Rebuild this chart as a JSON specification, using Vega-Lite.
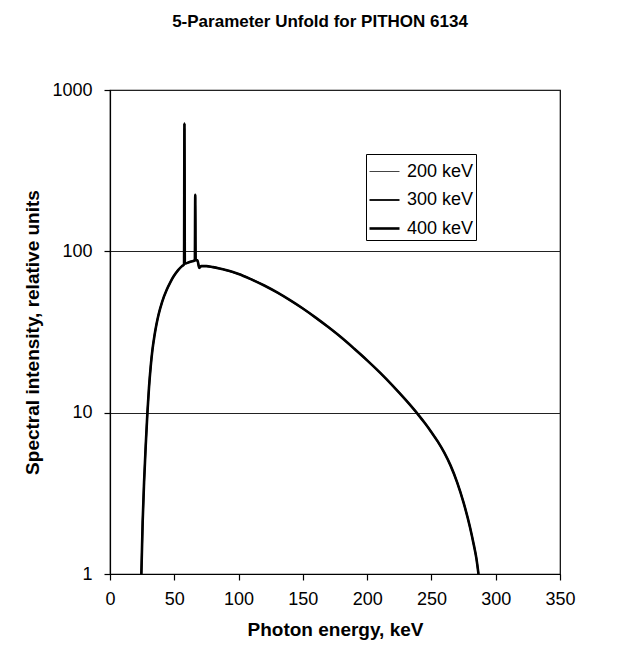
{
  "$schema": "https://vega.github.io/schema/vega-lite/v6.json",
  "width": 450,
  "height": 484,
  "autosize": {"type": "none"},
  "padding": {"left": 110, "top": 90, "right": 80, "bottom": 84},
  "background": "white",
  "title": {
    "text": "5-Parameter Unfold for PITHON 6134",
    "font": "Liberation Sans",
    "fontSize": 17,
    "fontWeight": "bold",
    "color": "black",
    "offset": 50,
    "anchor": "middle",
    "dx": -15
  },
  "config": {
    "font": "Liberation Sans",
    "view": {"stroke": "black", "strokeWidth": 1.2},
    "axis": {
      "domainColor": "black",
      "tickColor": "black",
      "labelColor": "black",
      "titleColor": "black",
      "labelFont": "Liberation Sans",
      "titleFont": "Liberation Sans",
      "labelFontSize": 18,
      "titleFontSize": 19,
      "titleFontWeight": "bold",
      "tickSize": 6,
      "domainWidth": 1.2,
      "tickWidth": 1.2
    }
  },
  "datasets": {
    "spectra": [
      {"energy": 24.4, "intensity": 1, "series": "200 keV"},
      {"energy": 25.4, "intensity": 2.1, "series": "200 keV"},
      {"energy": 26.5, "intensity": 3.7, "series": "200 keV"},
      {"energy": 27.8, "intensity": 6.3, "series": "200 keV"},
      {"energy": 29.1, "intensity": 10, "series": "200 keV"},
      {"energy": 30.3, "intensity": 14.2, "series": "200 keV"},
      {"energy": 31.7, "intensity": 19.5, "series": "200 keV"},
      {"energy": 33, "intensity": 24.5, "series": "200 keV"},
      {"energy": 34.5, "intensity": 29.7, "series": "200 keV"},
      {"energy": 36, "intensity": 34.8, "series": "200 keV"},
      {"energy": 37.7, "intensity": 40.3, "series": "200 keV"},
      {"energy": 40.5, "intensity": 48.5, "series": "200 keV"},
      {"energy": 44.2, "intensity": 58, "series": "200 keV"},
      {"energy": 47, "intensity": 64.5, "series": "200 keV"},
      {"energy": 49.4, "intensity": 69.8, "series": "200 keV"},
      {"energy": 53, "intensity": 76.5, "series": "200 keV"},
      {"energy": 56, "intensity": 81, "series": "200 keV"},
      {"energy": 57.6, "intensity": 83, "series": "200 keV"},
      {"energy": 57.9, "intensity": 620, "series": "200 keV"},
      {"energy": 58.2, "intensity": 84, "series": "200 keV"},
      {"energy": 62, "intensity": 86, "series": "200 keV"},
      {"energy": 66, "intensity": 88, "series": "200 keV"},
      {"energy": 66.3, "intensity": 224, "series": "200 keV"},
      {"energy": 66.6, "intensity": 88, "series": "200 keV"},
      {"energy": 68, "intensity": 88, "series": "200 keV"},
      {"energy": 69.4, "intensity": 79, "series": "200 keV"},
      {"energy": 71, "intensity": 81, "series": "200 keV"},
      {"energy": 75, "intensity": 81, "series": "200 keV"},
      {"energy": 80, "intensity": 79.8, "series": "200 keV"},
      {"energy": 85, "intensity": 78.3, "series": "200 keV"},
      {"energy": 90, "intensity": 76.6, "series": "200 keV"},
      {"energy": 95, "intensity": 74.6, "series": "200 keV"},
      {"energy": 100, "intensity": 72.4, "series": "200 keV"},
      {"energy": 110, "intensity": 67, "series": "200 keV"},
      {"energy": 120, "intensity": 61.4, "series": "200 keV"},
      {"energy": 130, "intensity": 55.6, "series": "200 keV"},
      {"energy": 140, "intensity": 49.8, "series": "200 keV"},
      {"energy": 150, "intensity": 44.2, "series": "200 keV"},
      {"energy": 160, "intensity": 38.8, "series": "200 keV"},
      {"energy": 170, "intensity": 33.8, "series": "200 keV"},
      {"energy": 180, "intensity": 29.2, "series": "200 keV"},
      {"energy": 190, "intensity": 24.9, "series": "200 keV"},
      {"energy": 200, "intensity": 21.1, "series": "200 keV"},
      {"energy": 210, "intensity": 17.7, "series": "200 keV"},
      {"energy": 220, "intensity": 14.66, "series": "200 keV"},
      {"energy": 230, "intensity": 11.99, "series": "200 keV"},
      {"energy": 240, "intensity": 9.66, "series": "200 keV"},
      {"energy": 245, "intensity": 8.59, "series": "200 keV"},
      {"energy": 250, "intensity": 7.57, "series": "200 keV"},
      {"energy": 255, "intensity": 6.61, "series": "200 keV"},
      {"energy": 260, "intensity": 5.65, "series": "200 keV"},
      {"energy": 265, "intensity": 4.68, "series": "200 keV"},
      {"energy": 270, "intensity": 3.7, "series": "200 keV"},
      {"energy": 275, "intensity": 2.77, "series": "200 keV"},
      {"energy": 280, "intensity": 1.95, "series": "200 keV"},
      {"energy": 283, "intensity": 1.51, "series": "200 keV"},
      {"energy": 285, "intensity": 1.245, "series": "200 keV"},
      {"energy": 286.6, "intensity": 1, "series": "200 keV"},

      {"energy": 24.4, "intensity": 1, "series": "300 keV"},
      {"energy": 25.4, "intensity": 2.1, "series": "300 keV"},
      {"energy": 26.5, "intensity": 3.7, "series": "300 keV"},
      {"energy": 27.8, "intensity": 6.3, "series": "300 keV"},
      {"energy": 29.1, "intensity": 10, "series": "300 keV"},
      {"energy": 30.3, "intensity": 14.2, "series": "300 keV"},
      {"energy": 31.7, "intensity": 19.5, "series": "300 keV"},
      {"energy": 33, "intensity": 24.5, "series": "300 keV"},
      {"energy": 34.5, "intensity": 29.7, "series": "300 keV"},
      {"energy": 36, "intensity": 34.8, "series": "300 keV"},
      {"energy": 37.7, "intensity": 40.3, "series": "300 keV"},
      {"energy": 40.5, "intensity": 48.5, "series": "300 keV"},
      {"energy": 44.2, "intensity": 58, "series": "300 keV"},
      {"energy": 47, "intensity": 64.5, "series": "300 keV"},
      {"energy": 49.4, "intensity": 69.8, "series": "300 keV"},
      {"energy": 53, "intensity": 76.5, "series": "300 keV"},
      {"energy": 56, "intensity": 81, "series": "300 keV"},
      {"energy": 57.6, "intensity": 83, "series": "300 keV"},
      {"energy": 57.9, "intensity": 620, "series": "300 keV"},
      {"energy": 58.2, "intensity": 84, "series": "300 keV"},
      {"energy": 62, "intensity": 86, "series": "300 keV"},
      {"energy": 66, "intensity": 88, "series": "300 keV"},
      {"energy": 66.3, "intensity": 224, "series": "300 keV"},
      {"energy": 66.6, "intensity": 88, "series": "300 keV"},
      {"energy": 68, "intensity": 88, "series": "300 keV"},
      {"energy": 69.4, "intensity": 79, "series": "300 keV"},
      {"energy": 71, "intensity": 81, "series": "300 keV"},
      {"energy": 75, "intensity": 81, "series": "300 keV"},
      {"energy": 80, "intensity": 79.8, "series": "300 keV"},
      {"energy": 85, "intensity": 78.3, "series": "300 keV"},
      {"energy": 90, "intensity": 76.6, "series": "300 keV"},
      {"energy": 95, "intensity": 74.6, "series": "300 keV"},
      {"energy": 100, "intensity": 72.4, "series": "300 keV"},
      {"energy": 110, "intensity": 67, "series": "300 keV"},
      {"energy": 120, "intensity": 61.4, "series": "300 keV"},
      {"energy": 130, "intensity": 55.6, "series": "300 keV"},
      {"energy": 140, "intensity": 49.8, "series": "300 keV"},
      {"energy": 150, "intensity": 44.2, "series": "300 keV"},
      {"energy": 160, "intensity": 38.8, "series": "300 keV"},
      {"energy": 170, "intensity": 33.8, "series": "300 keV"},
      {"energy": 180, "intensity": 29.2, "series": "300 keV"},
      {"energy": 190, "intensity": 24.9, "series": "300 keV"},
      {"energy": 200, "intensity": 21.1, "series": "300 keV"},
      {"energy": 210, "intensity": 17.7, "series": "300 keV"},
      {"energy": 220, "intensity": 14.66, "series": "300 keV"},
      {"energy": 230, "intensity": 11.99, "series": "300 keV"},
      {"energy": 240, "intensity": 9.66, "series": "300 keV"},
      {"energy": 245, "intensity": 8.59, "series": "300 keV"},
      {"energy": 250, "intensity": 7.57, "series": "300 keV"},
      {"energy": 255, "intensity": 6.61, "series": "300 keV"},
      {"energy": 260, "intensity": 5.65, "series": "300 keV"},
      {"energy": 265, "intensity": 4.68, "series": "300 keV"},
      {"energy": 270, "intensity": 3.7, "series": "300 keV"},
      {"energy": 275, "intensity": 2.77, "series": "300 keV"},
      {"energy": 280, "intensity": 1.95, "series": "300 keV"},
      {"energy": 283, "intensity": 1.51, "series": "300 keV"},
      {"energy": 285, "intensity": 1.245, "series": "300 keV"},
      {"energy": 286.6, "intensity": 1, "series": "300 keV"},

      {"energy": 24.4, "intensity": 1, "series": "400 keV"},
      {"energy": 25.4, "intensity": 2.1, "series": "400 keV"},
      {"energy": 26.5, "intensity": 3.7, "series": "400 keV"},
      {"energy": 27.8, "intensity": 6.3, "series": "400 keV"},
      {"energy": 29.1, "intensity": 10, "series": "400 keV"},
      {"energy": 30.3, "intensity": 14.2, "series": "400 keV"},
      {"energy": 31.7, "intensity": 19.5, "series": "400 keV"},
      {"energy": 33, "intensity": 24.5, "series": "400 keV"},
      {"energy": 34.5, "intensity": 29.7, "series": "400 keV"},
      {"energy": 36, "intensity": 34.8, "series": "400 keV"},
      {"energy": 37.7, "intensity": 40.3, "series": "400 keV"},
      {"energy": 40.5, "intensity": 48.5, "series": "400 keV"},
      {"energy": 44.2, "intensity": 58, "series": "400 keV"},
      {"energy": 47, "intensity": 64.5, "series": "400 keV"},
      {"energy": 49.4, "intensity": 69.8, "series": "400 keV"},
      {"energy": 53, "intensity": 76.5, "series": "400 keV"},
      {"energy": 56, "intensity": 81, "series": "400 keV"},
      {"energy": 57.6, "intensity": 83, "series": "400 keV"},
      {"energy": 57.9, "intensity": 620, "series": "400 keV"},
      {"energy": 58.2, "intensity": 84, "series": "400 keV"},
      {"energy": 62, "intensity": 86, "series": "400 keV"},
      {"energy": 66, "intensity": 88, "series": "400 keV"},
      {"energy": 66.3, "intensity": 224, "series": "400 keV"},
      {"energy": 66.6, "intensity": 88, "series": "400 keV"},
      {"energy": 68, "intensity": 88, "series": "400 keV"},
      {"energy": 69.4, "intensity": 79, "series": "400 keV"},
      {"energy": 71, "intensity": 81, "series": "400 keV"},
      {"energy": 75, "intensity": 81, "series": "400 keV"},
      {"energy": 80, "intensity": 79.8, "series": "400 keV"},
      {"energy": 85, "intensity": 78.3, "series": "400 keV"},
      {"energy": 90, "intensity": 76.6, "series": "400 keV"},
      {"energy": 95, "intensity": 74.6, "series": "400 keV"},
      {"energy": 100, "intensity": 72.4, "series": "400 keV"},
      {"energy": 110, "intensity": 67, "series": "400 keV"},
      {"energy": 120, "intensity": 61.4, "series": "400 keV"},
      {"energy": 130, "intensity": 55.6, "series": "400 keV"},
      {"energy": 140, "intensity": 49.8, "series": "400 keV"},
      {"energy": 150, "intensity": 44.2, "series": "400 keV"},
      {"energy": 160, "intensity": 38.8, "series": "400 keV"},
      {"energy": 170, "intensity": 33.8, "series": "400 keV"},
      {"energy": 180, "intensity": 29.2, "series": "400 keV"},
      {"energy": 190, "intensity": 24.9, "series": "400 keV"},
      {"energy": 200, "intensity": 21.1, "series": "400 keV"},
      {"energy": 210, "intensity": 17.7, "series": "400 keV"},
      {"energy": 220, "intensity": 14.66, "series": "400 keV"},
      {"energy": 230, "intensity": 11.99, "series": "400 keV"},
      {"energy": 240, "intensity": 9.66, "series": "400 keV"},
      {"energy": 245, "intensity": 8.59, "series": "400 keV"},
      {"energy": 250, "intensity": 7.57, "series": "400 keV"},
      {"energy": 255, "intensity": 6.61, "series": "400 keV"},
      {"energy": 260, "intensity": 5.65, "series": "400 keV"},
      {"energy": 265, "intensity": 4.68, "series": "400 keV"},
      {"energy": 270, "intensity": 3.7, "series": "400 keV"},
      {"energy": 275, "intensity": 2.77, "series": "400 keV"},
      {"energy": 280, "intensity": 1.95, "series": "400 keV"},
      {"energy": 283, "intensity": 1.51, "series": "400 keV"},
      {"energy": 285, "intensity": 1.245, "series": "400 keV"},
      {"energy": 286.6, "intensity": 1, "series": "400 keV"}
    ]
  },
  "data": {"name": "spectra"},
  "mark": {"type": "line", "clip": true, "strokeJoin": "round", "interpolate": "monotone"},
  "encoding": {
    "x": {
      "field": "energy",
      "type": "quantitative",
      "scale": {"domain": [0, 350], "nice": false, "zero": false},
      "axis": {
        "title": "Photon energy, keV",
        "values": [0, 50, 100, 150, 200, 250, 300, 350],
        "grid": false,
        "labelPadding": 10,
        "titlePadding": 12,
        "labelFlush": false
      }
    },
    "y": {
      "field": "intensity",
      "type": "quantitative",
      "scale": {"type": "log", "domain": [1, 1000], "nice": false},
      "axis": {
        "title": "Spectral intensity, relative units",
        "values": [1, 10, 100, 1000],
        "format": "d",
        "grid": true,
        "gridColor": "#222",
        "gridWidth": 1,
        "gridOpacity": 1,
        "labelPadding": 12,
        "titlePadding": 9,
        "labelFlush": false
      }
    },
    "color": {
      "field": "series",
      "type": "nominal",
      "scale": {"domain": ["200 keV", "300 keV", "400 keV"], "range": ["#444", "#000", "#000"]},
      "legend": {
        "title": null,
        "orient": "none",
        "legendX": 256,
        "legendY": 64,
        "symbolType": "stroke",
        "symbolSize": 900,
        "rowPadding": 3,
        "padding": 2,
        "labelOffset": 6,
        "labelFont": "Liberation Sans",
        "labelFontSize": 18,
        "labelColor": "black",
        "strokeColor": "black",
        "fillColor": "white"
      }
    },
    "strokeWidth": {
      "field": "series",
      "type": "nominal",
      "scale": {"domain": ["200 keV", "300 keV", "400 keV"], "range": [1, 2.6, 2.6]},
      "legend": null
    }
  }
}
